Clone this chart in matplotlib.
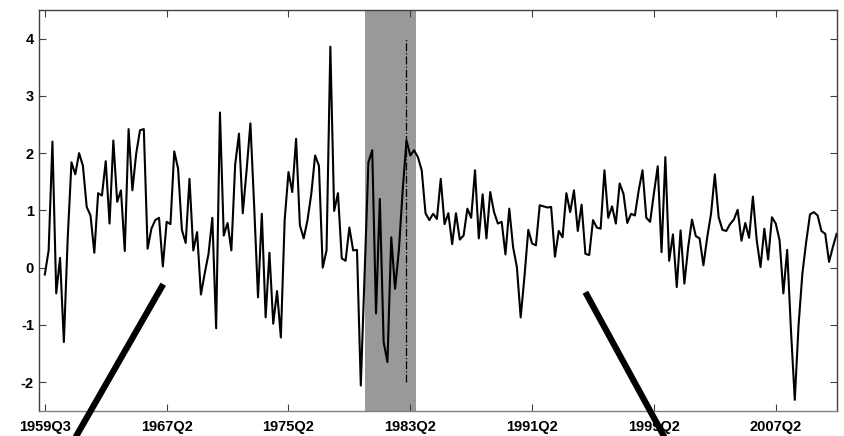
import matplotlib
matplotlib.use("Agg")
import matplotlib.pyplot as plt
import numpy as np

# serie trimestral, primer dato 1959Q3
serie = [
    -0.12, 0.30, 2.20, -0.45, 0.17, -1.30, 0.50, 1.84, 1.63, 2.00,
    1.78, 1.06, 0.91, 0.26, 1.30, 1.26, 1.86, 0.77, 2.22, 1.15,
    1.35, 0.29, 2.42, 1.35, 1.99, 2.40, 2.42, 0.33, 0.68, 0.83,
    0.87, 0.02, 0.80, 0.76, 2.03, 1.73, 0.66, 0.43, 1.55, 0.30,
    0.62, -0.47, -0.10, 0.24, 0.87, -1.06, 2.71, 0.56, 0.78, 0.30,
    1.80, 2.34, 0.95, 1.70, 2.52, 1.06, -0.52, 0.94, -0.87, 0.26,
    -0.98, -0.41, -1.22, 0.83, 1.67, 1.32, 2.25, 0.74, 0.51, 0.83,
    1.29, 1.96, 1.78, 0.00, 0.30, 3.86, 0.99, 1.30, 0.16, 0.12,
    0.70, 0.30, 0.31, -2.06, -0.10, 1.84, 2.05, -0.80, 1.20, -1.30,
    -1.65, 0.53, -0.37, 0.30, 1.35, 2.22, 1.96, 2.05, 1.93, 1.70,
    0.95, 0.83, 0.94, 0.85, 1.55, 0.76, 0.95, 0.41, 0.95, 0.49,
    0.56, 1.03, 0.87, 1.70, 0.51, 1.28, 0.51, 1.32, 0.97, 0.77,
    0.80, 0.23, 1.03, 0.36, 0.01, -0.87, -0.15, 0.66, 0.42, 0.39,
    1.09, 1.07, 1.05, 1.06, 0.19, 0.64, 0.53, 1.30, 0.97, 1.35,
    0.64, 1.10, 0.24, 0.22, 0.83, 0.70, 0.68, 1.70, 0.87, 1.07,
    0.77, 1.47, 1.29, 0.78, 0.94, 0.91, 1.35, 1.70, 0.87, 0.80,
    1.30, 1.77, 0.27, 1.93, 0.12, 0.58, -0.34, 0.65, -0.28, 0.36,
    0.84, 0.55, 0.51, 0.04, 0.53, 0.94, 1.63, 0.88, 0.66, 0.64,
    0.76, 0.84, 1.01, 0.47, 0.78, 0.52, 1.24, 0.48, 0.01, 0.68,
    0.14, 0.88, 0.77, 0.48, -0.45, 0.31, -1.10, -2.31, -1.00, -0.10,
    0.45, 0.93, 0.97, 0.91, 0.64, 0.59, 0.10, 0.36, 0.59,
]
etiquetas = ["1959Q3", "1967Q2", "1975Q2", "1983Q2", "1991Q2", "1999Q2", "2007Q2"]
paso_etiquetas = 32          # trimestres entre etiquetas
banda = [84.1, 97.5]         # periodo sombreado
marca = 95                   # línea vertical punteada
marca_rango = [-2, 4]

plt.rcParams["font.family"] = ["Liberation Sans", "DejaVu Sans"]
plt.rcParams["axes.unicode_minus"] = False

t = np.arange(len(serie))

fig = plt.figure(figsize=(8.44, 4.36), dpi=100)
ax = fig.add_axes([0.0468, 0.058, 0.9445, 0.919])

ax.axvspan(banda[0], banda[1], color="#999999", lw=0, zorder=0)
ax.plot(t, serie, color="black", lw=1.5, zorder=2)
ax.plot([marca, marca], marca_rango, color="black", lw=0.9, ls="-.", zorder=3)

ax.set_xlim(-1.4, len(serie) - 1)
ax.set_ylim(-2.5, 4.5)
ax.set_xticks(np.arange(len(etiquetas)) * paso_etiquetas)
ax.set_xticklabels(etiquetas)
ax.set_yticks(range(-2, 5))

ax.tick_params(direction="in", length=5, width=0.8, color="#404040",
               top=True, right=True, labelsize=10.5)
ax.tick_params(axis="x", pad=7)
ax.tick_params(axis="y", pad=4)
for lab in ax.get_xticklabels() + ax.get_yticklabels():
    lab.set_fontweight("bold")
for s in ax.spines.values():
    s.set_color("#404040")
    s.set_linewidth(1.0)
ax.spines["bottom"].set_color("#808080")

# trazos gruesos que salen por debajo del eje
ax.plot([31.1, 6.9], [-0.29, -3.1], color="black", lw=4.5,
        solid_capstyle="butt", clip_on=False, zorder=5)
ax.plot([142.0, 163.9], [-0.43, -3.1], color="black", lw=4.5,
        solid_capstyle="butt", clip_on=False, zorder=5)

fig.savefig("out.png", dpi=100)
